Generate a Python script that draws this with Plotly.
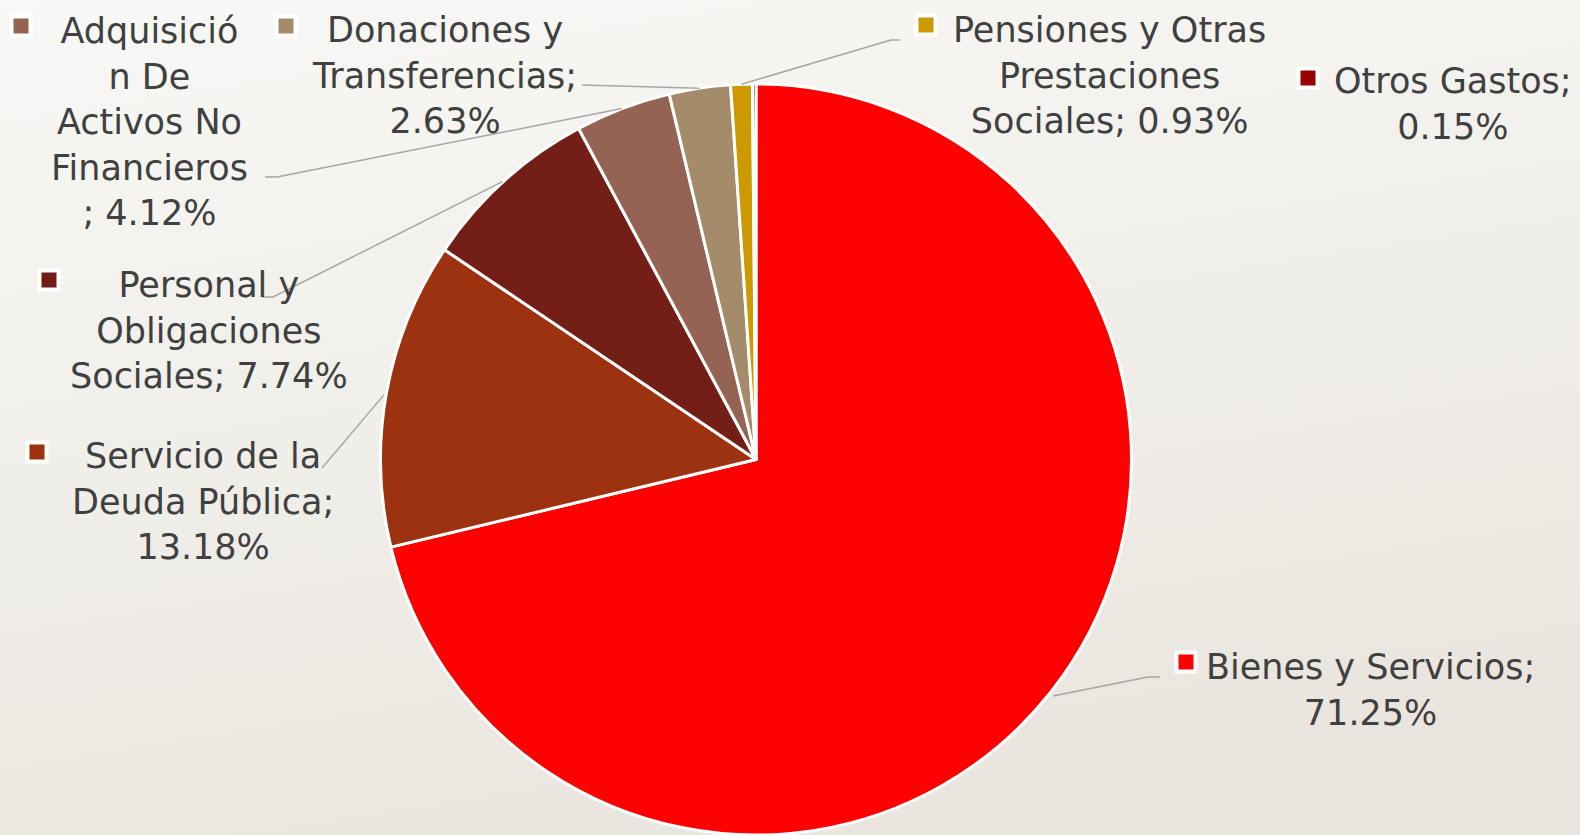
import math
import base64
import plotly.graph_objects as go

# data
categorias = ["Bienes y Servicios", "Servicio de la Deuda Pública",
              "Personal y Obligaciones Sociales",
              "Adquisición De Activos No Financieros",
              "Donaciones y Transferencias",
              "Pensiones y Otras Prestaciones Sociales", "Otros Gastos"]
porcentajes = [71.25, 13.18, 7.74, 4.12, 2.63, 0.93, 0.15]
colores = ["#FF0000", "#9C3210", "#731F17", "#946353", "#A48B6A", "#CC9900", "#990000"]

# label text as shown (line breaks like the original)
etiquetas = [
    "Bienes y Servicios;<br>71.25%",
    "Servicio de la<br>Deuda Pública;<br>13.18%",
    "Personal y<br>Obligaciones<br>Sociales; 7.74%",
    "Adquisició<br>n De<br>Activos No<br>Financieros<br>; 4.12%",
    "Donaciones y<br>Transferencias;<br>2.63%",
    "Pensiones y Otras<br>Prestaciones<br>Sociales; 0.93%",
    "Otros Gastos;<br>0.15%",
]

W, H = 1580, 835
CX, CY, R = 756, 462, 378   # pie geometry in pixels (bottom gets clipped to the page)

# layout of labels (pixel positions): text centre, legend key, leader end points
lbl_pos = [
    dict(tx=1370, ty=690, key=(1186, 662), lead=[(1148, 677), (1160, 677)]),
    dict(tx=203, ty=501, key=(37, 452), lead=[(322, 468)]),
    dict(tx=209, ty=330, key=(49, 280), lead=[(273, 297), (262, 297)]),
    dict(tx=149, ty=122, key=(21, 26), lead=[(277, 177), (265, 177)]),
    dict(tx=444, ty=76, key=(286, 26), lead=[(582, 85)]),
    dict(tx=1109, ty=76, key=(926, 25), lead=[(891, 40), (900, 40)]),
    dict(tx=1453, ty=104, key=(1308, 78), lead=[]),
]


def px(x, y):
    return x / W, 1 - y / H


top = CY - R
fig = go.Figure(go.Pie(
    labels=categorias,
    values=porcentajes,
    sort=False,
    direction="clockwise",
    rotation=0,
    marker=dict(colors=colores, line=dict(color="white", width=3)),
    textinfo="none",
    hoverinfo="label+percent",
    domain=dict(x=[(CX - R) / W, (CX + R) / W], y=[0, 1 - top / H]),
    showlegend=False,
))

shapes = []
annotations = []
total = sum(porcentajes)
acum = 0
for val, col, txt, pos in zip(porcentajes, colores, etiquetas, lbl_pos):
    mid = (acum + val / 2) / total * 2 * math.pi
    acum += val
    # leader line from slice edge
    if pos["lead"]:
        pts = [(CX + R * math.sin(mid), CY - R * math.cos(mid))] + pos["lead"]
        path = "M " + " L ".join("%.4f,%.4f" % px(x, y) for x, y in pts)
        shapes.append(dict(type="path", path=path, xref="paper", yref="paper",
                           line=dict(color="#A6A6A6", width=1.5)))
    # legend key square (white frame)
    kx, ky = pos["key"]
    x0, y0 = px(kx - 9.5, ky + 9.5)
    x1, y1 = px(kx + 9.5, ky - 9.5)
    shapes.append(dict(type="rect", xref="paper", yref="paper", x0=x0, y0=y0, x1=x1, y1=y1,
                       fillcolor=col, line=dict(color="white", width=4)))
    ax, ay = px(pos["tx"], pos["ty"])
    annotations.append(dict(text=txt, x=ax, y=ay, xref="paper", yref="paper",
                            xanchor="center", yanchor="middle", showarrow=False,
                            align="center", font=dict(size=35, color="#404040")))

# soft background gradient
svg = ('<svg xmlns="http://www.w3.org/2000/svg" width="1580" height="835">'
       '<defs><linearGradient id="g" x1="0" y1="0" x2="0.3" y2="1">'
       '<stop offset="0" stop-color="#F8F8F6"/><stop offset="1" stop-color="#EAE6DF"/>'
       '</linearGradient></defs><rect width="1580" height="835" fill="url(#g)"/></svg>')
src = "data:image/svg+xml;base64," + base64.b64encode(svg.encode()).decode()

fig.update_layout(
    width=W, height=H,
    margin=dict(l=0, r=0, t=0, b=0),
    paper_bgcolor="#F1EFEB",
    plot_bgcolor="rgba(0,0,0,0)",
    font=dict(family="DejaVu Sans, sans-serif", color="#404040"),
    shapes=shapes,
    annotations=annotations,
    images=[dict(source=src, xref="paper", yref="paper", x=0, y=1, sizex=1, sizey=1,
                 sizing="stretch", layer="below")],
)

fig.write_html("out.html", config={"displayModeBar": False},
               post_script="document.body.style.margin='0';")
